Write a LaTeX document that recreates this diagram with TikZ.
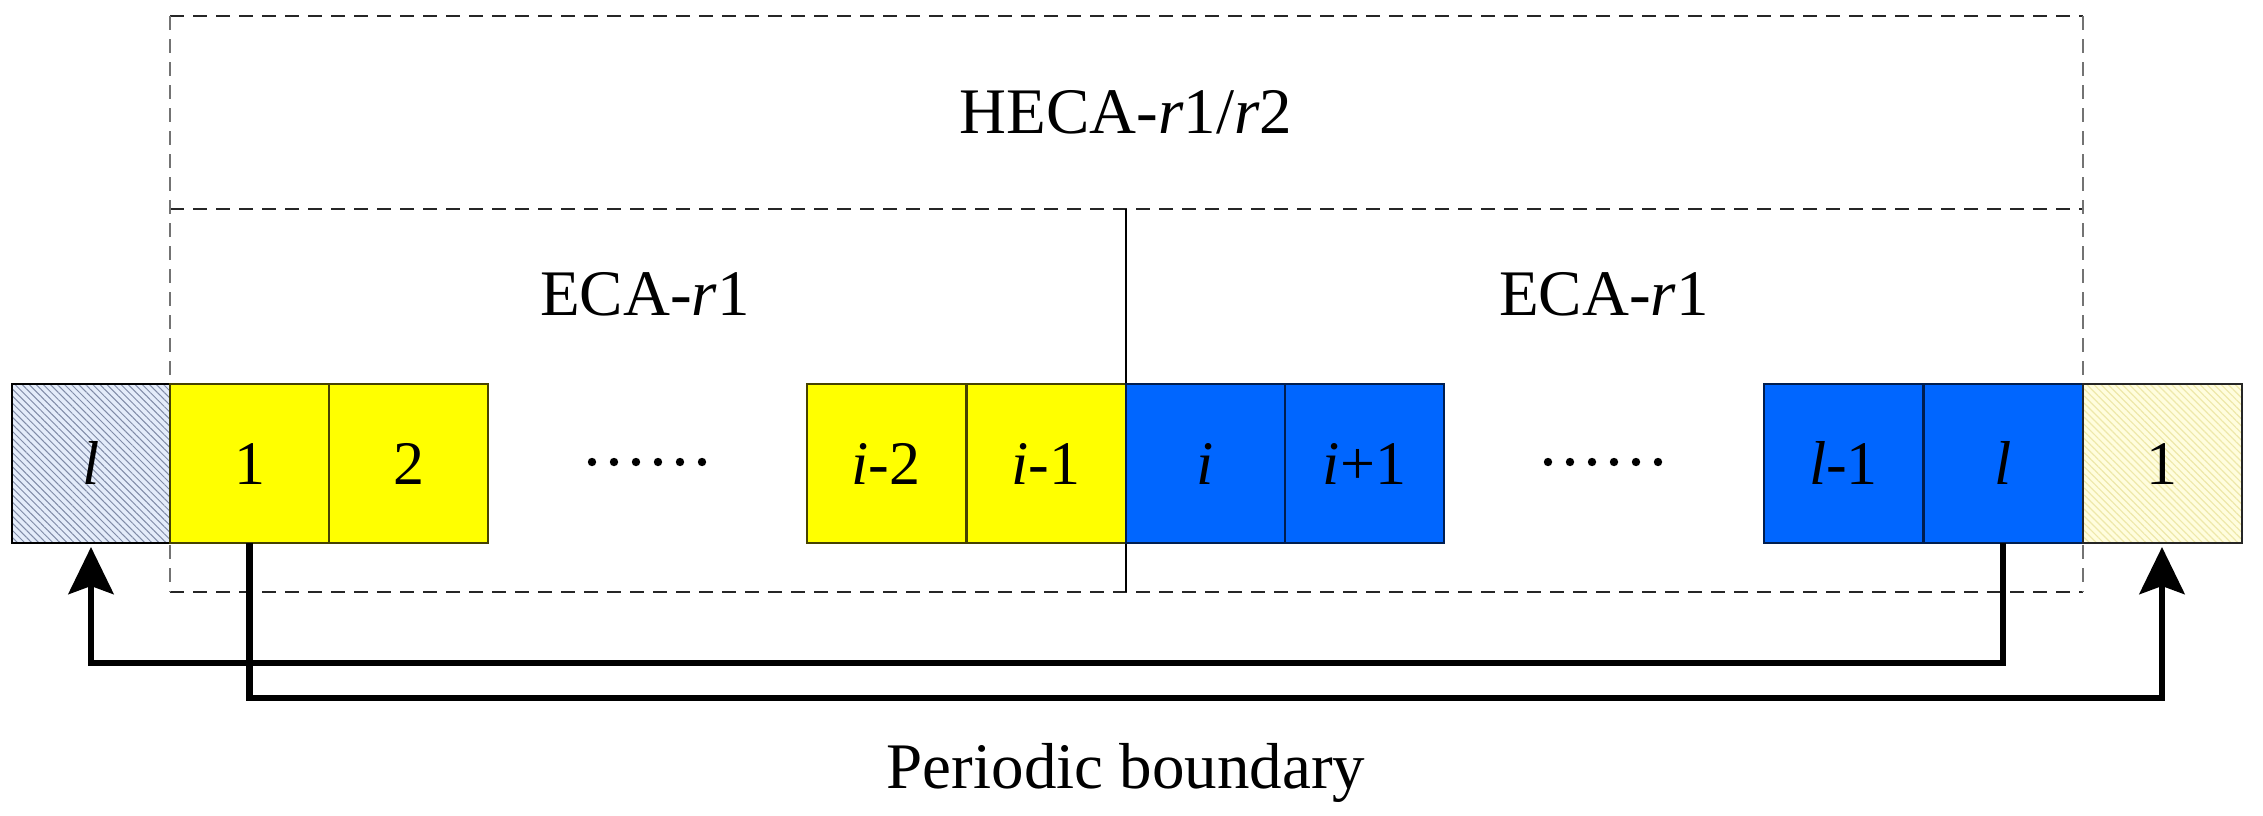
\documentclass[tikz,border=0pt]{standalone}
\usepackage{fontspec}
\setmainfont{Liberation Serif}
\usetikzlibrary{arrows.meta,patterns.meta}
\definecolor{cyell}{RGB}{255,255,0}
\definecolor{cblue}{RGB}{0,102,255}
\definecolor{ybord}{RGB}{70,66,0}
\definecolor{bbord}{RGB}{0,30,80}
\definecolor{lbfill}{RGB}{228,236,250}
\definecolor{lbhatch}{RGB}{60,76,120}
\definecolor{rbfill}{RGB}{255,253,222}
\definecolor{rbhatch}{RGB}{238,232,170}
\begin{document}
\begin{tikzpicture}[x=1pt,y=-1pt,
  cell/.style={minimum width=159pt, minimum height=159pt, inner sep=0pt, outer sep=0pt,
    line width=2pt, font=\fontsize{62}{70}\selectfont, text height=42pt, text depth=0pt},
  ycell/.style={cell, fill=cyell, draw=ybord},
  bcell/.style={cell, fill=cblue, draw=bbord},
  lbl/.style={font=\fontsize{65}{75}\selectfont, anchor=base, inner sep=0pt},
  conn/.style={line width=6.5pt},
  tip/.style={-{Stealth[length=47pt,width=45pt,inset=8pt]}, shorten >=4pt},
  dboxh/.style={dash pattern=on 14pt off 9pt, line width=2pt, black!85},
  dboxv/.style={dash pattern=on 14pt off 9pt, line width=1.6pt, black!55},
  dotc/.style={fill=black, draw=none}
]
\useasboundingbox (0,0) rectangle (2263,815);

% dashed frames
\draw[dboxh] (170,16) -- (2083,16);
\draw[dboxh] (170,209) -- (2083,209);
\draw[dboxh] (170,592) -- (2083,592);
\draw[dboxv] (170,16) -- (170,592);
\draw[dboxv] (2083,16) -- (2083,592);
\draw[line width=1.8pt, black] (1126,209) -- (1126,592);

% labels
\node[lbl] (heca) at (1126,133) {HECA-\textit{r}1/\textit{r}2};
\node[lbl] (ecal) at (645,315) {ECA-\textit{r}1};
\node[lbl] (ecar) at (1604,315) {ECA-\textit{r}1};
\node[lbl] (pb) at (1126,788) {Periodic boundary};

% cells
\node[cell, preaction={fill=lbfill}, pattern={Lines[angle=-45,distance=5pt,line width=1pt]}, pattern color=lbhatch!65, draw=black] (lb) at (91,463.5) {\textit{l}};
\node[ycell] (c1) at (249.5,463.5) {1};
\node[ycell] (c2) at (408.5,463.5) {2};
\node[ycell] (ci2) at (886,463.5) {\textit{i}-2};
\node[ycell] (ci1) at (1046,463.5) {\textit{i}-1};
\node[bcell] (ci) at (1205.5,463.5) {\textit{i}};
\node[bcell] (cip) at (1364.5,463.5) {\textit{i}+1};
\node[bcell] (cl1) at (1843.5,463.5) {\textit{l}-1};
\node[bcell] (cl) at (2003,463.5) {\textit{l}};
\node[cell, preaction={fill=rbfill}, pattern={Lines[angle=-45,distance=5pt,line width=1.2pt]}, pattern color=rbhatch, draw=black!85] (rb) at (2162,463.5) {1};

% dots
\foreach \x in {592,614,636,658,680,702} \fill[dotc] (\x,462) circle (4.2pt);
\foreach \x in {1548,1570,1592,1614,1636,1658} \fill[dotc] (\x,462) circle (4.2pt);

% periodic boundary connectors
\coordinate (yA) at (0,663);
\coordinate (yB) at (0,698);
\draw[conn, tip] (cl.south) -- (cl.south |- yA) -- (lb.south |- yA) -- (lb.south);
\draw[conn, tip] (c1.south) -- (c1.south |- yB) -- (rb.south |- yB) -- (rb.south);
\end{tikzpicture}
\end{document}
